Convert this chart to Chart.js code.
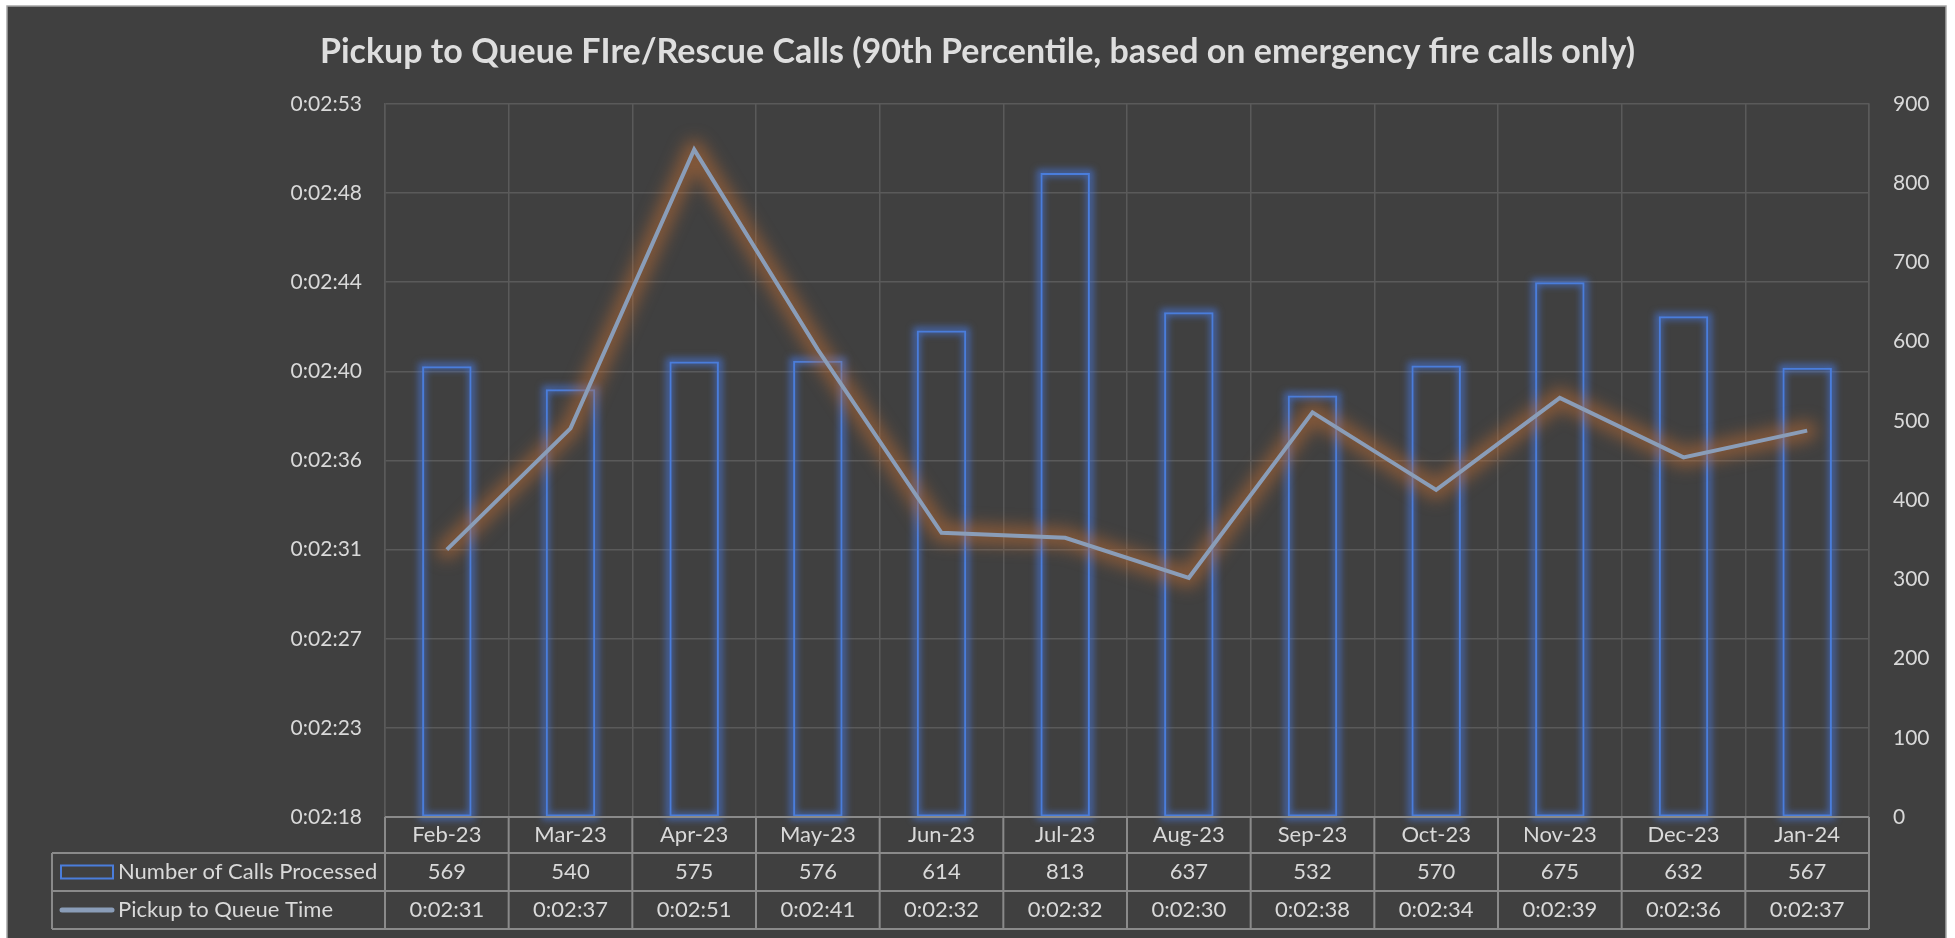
<!DOCTYPE html>
<html>
<head>
<meta charset="utf-8">
<script src="https://cdn.jsdelivr.net/npm/chart.js@4/dist/chart.umd.min.js"></script>
<style>
  html, body { margin: 0; padding: 0; background: #ffffff; overflow: hidden; }
  #wrap { width: 1955px; height: 938px; position: relative; }
</style>
</head>
<body>
<div id="wrap"><canvas id="mainChart"></canvas></div>
<script>
// ================= DATA =================
const months = ["Feb-23", "Mar-23", "Apr-23", "May-23", "Jun-23", "Jul-23",
                "Aug-23", "Sep-23", "Oct-23", "Nov-23", "Dec-23", "Jan-24"];
const callsProcessed = [569, 540, 575, 576, 614, 813, 637, 532, 570, 675, 632, 567];
// pickup to queue time, in seconds
const queueSeconds = [151.25, 157.1, 170.55, 160.9, 152.06, 151.82,
                      149.89, 157.87, 154.13, 158.57, 155.7, 156.99];
const seriesNames = ["Number of Calls Processed", "Pickup to Queue Time"];
const titleText = "Pickup to Queue FIre/Rescue Calls (90th Percentile, based on emergency fire calls only)";

const FONT = "Lato";
const TEXT = "#d9d9d9";
const GRID = "#5a5a5a";
const TABLE_LINE = "#8a8a8a";
const BAR_BLUE = "#4a7ddb";
const LINE_COLOR = "#8a9db8";

function fmtTime(sec) {
  const s = Math.round(sec);
  const m = Math.floor(s / 60);
  const ss = s % 60;
  return "0:" + String(m).padStart(2, "0") + ":" + String(ss).padStart(2, "0");
}

// ================= PLUGIN (frame, glow, title, data table) =================
const decor = {
  id: "decor",
  beforeDraw(chart) {
    const ctx = chart.ctx;
    ctx.save();
    ctx.fillStyle = "#ffffff";
    ctx.fillRect(0, 0, chart.width, chart.height);
    ctx.fillStyle = "#404040";
    ctx.fillRect(7, 6, 1939, 940);
    ctx.strokeStyle = "#a6a6a6";
    ctx.lineWidth = 1.5;
    ctx.strokeRect(7, 6, 1939, 940);
    ctx.restore();
  },
  beforeDatasetDraw(chart, args) {
    const meta = args.meta;
    const ctx = chart.ctx;
    ctx.save();
    if (meta.type === "line") {
      ctx.filter = "blur(8px)";
      ctx.strokeStyle = "rgba(200,112,50,0.5)";
      ctx.lineWidth = 20;
      ctx.lineJoin = "round";
      ctx.lineCap = "round";
      ctx.beginPath();
      meta.data.forEach((p, i) => i ? ctx.lineTo(p.x, p.y) : ctx.moveTo(p.x, p.y));
      ctx.stroke();
    } else {
      ctx.filter = "blur(3.5px)";
      ctx.strokeStyle = "rgba(70,120,225,0.65)";
      ctx.lineWidth = 7;
      meta.data.forEach(b => {
        ctx.strokeRect(b.x - b.width / 2, b.y, b.width, b.base - b.y);
      });
    }
    ctx.restore();
  },
  afterDraw(chart) {
    const ctx = chart.ctx;
    const area = chart.chartArea;
    const xs = chart.scales.x;
    const n = months.length;
    const step = xs.getPixelForValue(1) - xs.getPixelForValue(0);
    const tableLeft = 52;
    const rows = [area.bottom, area.bottom + 36, area.bottom + 74, area.bottom + 112];

    ctx.save();
    // title
    ctx.fillStyle = "#dedede";
    ctx.font = "bold 34px " + FONT;
    ctx.textAlign = "center";
    ctx.textBaseline = "middle";
    ctx.fillText(titleText, chart.width / 2, 52);

    // table lines
    ctx.strokeStyle = TABLE_LINE;
    ctx.lineWidth = 2;
    ctx.beginPath();
    ctx.moveTo(area.left, rows[0]); ctx.lineTo(area.right, rows[0]);
    for (let r = 1; r < rows.length; r++) {
      ctx.moveTo(tableLeft, rows[r]); ctx.lineTo(area.right, rows[r]);
    }
    ctx.moveTo(tableLeft, rows[1]); ctx.lineTo(tableLeft, rows[3]);
    for (let i = 0; i <= n; i++) {
      const bx = xs.getPixelForValue(0) - step / 2 + i * step;
      ctx.moveTo(bx, rows[0]); ctx.lineTo(bx, rows[3]);
    }
    ctx.stroke();

    // cell text
    ctx.fillStyle = TEXT;
    ctx.font = "22px " + FONT;
    ctx.textAlign = "center";
    months.forEach((m, i) => {
      const cx = xs.getPixelForValue(i);
      ctx.fillText(m, cx, (rows[0] + rows[1]) / 2);
      ctx.fillText(String(callsProcessed[i]), cx, (rows[1] + rows[2]) / 2);
      ctx.fillText(fmtTime(queueSeconds[i]), cx, (rows[2] + rows[3]) / 2);
    });

    // row labels with legend keys
    const y1 = (rows[1] + rows[2]) / 2;
    const y2 = (rows[2] + rows[3]) / 2;
    ctx.textAlign = "left";
    ctx.fillText(seriesNames[0], 118, y1);
    ctx.fillText(seriesNames[1], 118, y2);

    ctx.strokeStyle = BAR_BLUE;
    ctx.lineWidth = 2;
    ctx.strokeRect(61, y1 - 6.5, 52, 13);

    ctx.strokeStyle = LINE_COLOR;
    ctx.lineWidth = 5;
    ctx.lineCap = "round";
    ctx.beginPath();
    ctx.moveTo(62, y2); ctx.lineTo(112, y2);
    ctx.stroke();
    ctx.restore();
  }
};

// ================= CHART =================
new Chart(document.getElementById("mainChart"), {
  data: {
    labels: months,
    datasets: [
      {
        type: "line",
        label: seriesNames[1],
        data: queueSeconds,
        yAxisID: "y",
        borderColor: LINE_COLOR,
        borderWidth: 4,
        pointRadius: 0,
        tension: 0,
        order: 0
      },
      {
        type: "bar",
        label: seriesNames[0],
        data: callsProcessed,
        yAxisID: "y1",
        backgroundColor: "rgba(0,0,0,0)",
        borderColor: BAR_BLUE,
        borderWidth: 2,
        borderSkipped: false,
        barPercentage: 0.4,
        categoryPercentage: 1.0,
        order: 1
      }
    ]
  },
  options: {
    responsive: true,
    maintainAspectRatio: false,
    animation: false,
    layout: { padding: { top: 104, bottom: 121, left: 0, right: 0 } },
    plugins: {
      legend: { display: false },
      tooltip: { enabled: false },
      title: { display: false }
    },
    scales: {
      x: {
        offset: true,
        ticks: { display: false },
        grid: { color: GRID, lineWidth: 1.5, drawTicks: false, offset: true },
        border: { display: false },
        afterFit: s => { s.height = 0; }
      },
      y: {
        position: "left",
        min: 138.35,
        max: 172.75,
        ticks: {
          stepSize: 4.3,
          color: TEXT,
          font: { family: FONT, size: 21 },
          padding: 23,
          callback: v => fmtTime(v)
        },
        grid: { color: GRID, lineWidth: 1.5, drawTicks: false },
        border: { color: GRID, width: 1.5 },
        afterFit: s => { s.width = 385; }
      },
      y1: {
        position: "right",
        min: 0,
        max: 900,
        ticks: {
          stepSize: 100,
          color: TEXT,
          font: { family: FONT, size: 21 },
          padding: 24
        },
        grid: { drawOnChartArea: false, drawTicks: false },
        border: { color: GRID, width: 1.5 },
        afterFit: s => { s.width = 86; }
      }
    }
  },
  plugins: [decor]
});
</script>
</body>
</html>
